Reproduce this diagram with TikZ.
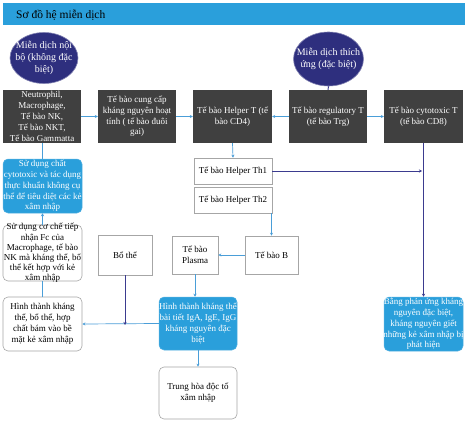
\documentclass[tikz,border=0pt]{standalone}
\usepackage{fontspec}
\setmainfont{Liberation Serif}
\usetikzlibrary{shapes.geometric,arrows.meta}
\definecolor{dk}{HTML}{404040}
\definecolor{bl}{HTML}{2A9FDB}
\definecolor{nv}{HTML}{2E2F7E}
\definecolor{lb}{HTML}{4A9ED8}
\definecolor{ln}{HTML}{3B3B8F}
\definecolor{gr}{HTML}{A6A6A6}
\begin{document}
\begin{tikzpicture}[x=1pt,y=-1pt,
 txt/.style={align=center,font=\fontsize{9}{10.8}\selectfont,inner sep=0pt},
 wtxt/.style={txt,text=white},
 dkbox/.style={fill=dk,draw=none,minimum width=78pt,minimum height=53pt,inner sep=0pt},
 wbox/.style={draw=gr,fill=white,inner sep=0pt,line width=0.6pt},
 rbox/.style={wbox,rounded corners=5pt},
 bbox/.style={fill=bl,draw=bl!80!white,line width=0.5pt,rounded corners=5pt,inner sep=0pt},
 ell/.style={ellipse,fill=nv,draw=nv!60!white,line width=0.6pt,inner sep=0pt},
 arrL/.style={draw=lb,line width=0.7pt,-{Stealth[length=3pt,width=3pt]}},
 lineL/.style={draw=lb,line width=0.7pt},
 arrN/.style={draw=ln,line width=0.9pt,-{Stealth[length=3pt,width=3pt]}},
 lineN/.style={draw=ln,line width=0.9pt}
]
\useasboundingbox (0,0) rectangle (468,425);
\fill[white] (0,0) rectangle (468,425);

% title
\node[fill=bl,minimum width=462pt,minimum height=22pt,inner sep=0pt] (title) at (234,14) {};
\node[anchor=west,inner sep=0pt,font=\fontsize{11.5}{13}\selectfont] (titleT) at (16,15) {Sơ đồ hệ miễn dịch};

% ellipses
\node[ell,minimum width=68pt,minimum height=51pt] (e1) at (44,58) {};
\node[wtxt,font=\fontsize{10}{12}\selectfont] (e1T) at (e1) {Miễn dịch nội\\bộ (không đặc\\biệt)};
\node[ell,minimum width=70pt,minimum height=54pt] (e2) at (328.5,59) {};
\node[wtxt,font=\fontsize{10}{12.5}\selectfont] (e2T) at (e2) {Miễn dịch thích\\ứng (đặc biệt)};

% dark row
\node[dkbox] (b1) at (42,116.5) {};
\node[wtxt] (b1T) at (b1) {Neutrophil,\\Macrophage,\\Tế bào NK,\\Tế bào NKT,\\Tế bào Gammatta};
\node[dkbox] (b2) at (137,116.5) {};
\node[wtxt] (b2T) at (b2) {Tế bào cung cấp\\kháng nguyên hoạt\\tính ( tế bào đuôi\\gai)};
\node[dkbox,minimum width=79pt] (b3) at (232.5,116.5) {};
\node[wtxt] (b3T) at (b3) {Tế bào Helper T (tế\\bào CD4)};
\node[dkbox] (b4) at (328,116.5) {};
\node[wtxt] (b4T) at (b4) {Tế bào regulatory T\\(tế bào Trg)};
\node[dkbox,minimum width=79pt] (b5) at (423.5,116.5) {};
\node[wtxt] (b5T) at (b5) {Tế bào cytotoxic T\\(tế bào CD8)};

% helper boxes
\node[wbox,minimum width=78pt,minimum height=26pt] (th1) at (233,171) {};
\node[txt] (th1T) at (th1) {Tế bào Helper Th1};
\node[wbox,minimum width=78pt,minimum height=26pt] (th2) at (233,200) {};
\node[txt] (th2T) at (th2) {Tế bào Helper Th2};

% left column
\node[bbox,minimum width=79pt,minimum height=54pt] (cyto) at (42.5,186) {};
\node[wtxt] (cytoT) at (cyto) {Sử dụng chất\\cytotoxic và tác dụng\\thực khuẩn không cụ\\thể để tiêu diệt các kẻ\\xâm nhập};
\node[rbox,minimum width=79pt,minimum height=56pt] (fc) at (42.5,253) {};
\node[txt,font=\fontsize{9}{10.2}\selectfont] (fcT) at (fc) {Sử dụng cơ chế tiếp\\nhận Fc của\\Macrophage, tế bào\\NK mà kháng thể, bổ\\thể kết hợp với kẻ\\xâm nhập};
\node[rbox,minimum width=79pt,minimum height=54pt] (ht) at (42.5,324) {};
\node[txt] (htT) at (ht) {Hình thành kháng\\thể, bổ thể, hợp\\chất bám vào bề\\mặt kẻ xâm nhập};

% middle row
\node[wbox,minimum width=54pt,minimum height=40pt] (bothe) at (125,255) {};
\node[txt] (botheT) at (bothe) {Bổ thể};
\node[wbox,minimum width=46pt,minimum height=38pt] (plasma) at (195,255) {};
\node[txt] (plasmaT) at (plasma) {Tế bào\\Plasma};
\node[wbox,minimum width=53pt,minimum height=38pt] (bcell) at (271.5,255) {};
\node[txt] (bcellT) at (bcell) {Tế bào B};

% lower middle
\node[bbox,minimum width=78pt,minimum height=53pt] (ab) at (198,323.5) {};
\node[wtxt] (abT) at (ab) {Hình thành kháng thể\\bài tiết IgA, IgE, IgG\\kháng nguyên đặc\\biệt};
\node[rbox,minimum width=78pt,minimum height=52pt] (trung) at (198,393) {};
\node[txt] (trungT) at (trung) {Trung hòa độc tố\\xâm nhập};

% right
\node[bbox,minimum width=79pt,minimum height=54pt] (cd8) at (423.5,324) {};
\node[wtxt] (cd8T) at (cd8) {Bằng phản ứng kháng\\nguyên đặc biệt,\\kháng nguyên giết\\những kẻ xâm nhập bị\\phát hiện};

% connectors
\draw[arrL] (b1.east) -- (b2.west);
\draw[arrL] (b2.east) -- (b3.west);
\draw[arrL] (b4.west) -- (b3.east);
\draw[arrL] (b4.east) -- (b5.west);
\draw[lineN] (e2.south) -- (b4.north);
\draw[arrL] (b3.south) -- (th1.north);
\coordinate (j1) at (b5.south |- th1.east);
\draw[arrN] (th1.east) -- ([xshift=-1.5pt]j1);
\draw[arrN] (b5.south) -- (cd8.north);
\draw[lineL] (b1.south -| cyto.north) -- (cyto.north);
\draw[arrL] (fc.north) -- (cyto.south);
\draw[lineL] (ht.north) -- (fc.south);
\draw[arrL] (th2.south -| bcell.north) -- (bcell.north);
\draw[arrL] (bcell.west) -- (plasma.east);
\draw[arrL] (plasma.south) -- (plasma.south |- ab.north);
\draw[arrL] (ab.south) -- (trung.north);
\draw[arrL] (ab.west) -- (ht.east);
\coordinate (j2) at (bothe.south |- ab.west);
\draw[arrN] (bothe.south) -- ([yshift=-1.5pt]j2);
\end{tikzpicture}
\end{document}
